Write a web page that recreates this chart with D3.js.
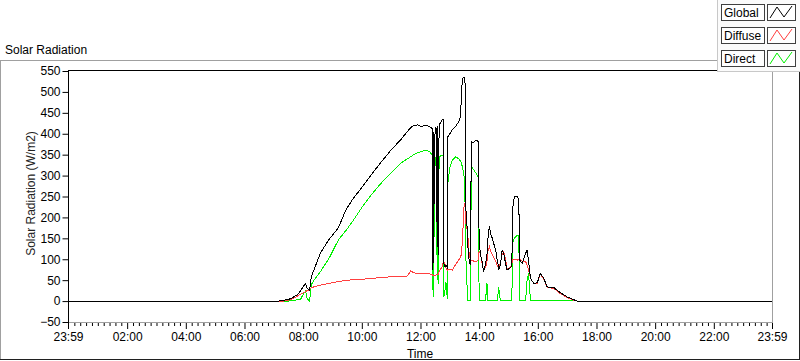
<!DOCTYPE html>
<html>
<head>
<meta charset="utf-8">
<script src="https://cdn.jsdelivr.net/npm/d3@7/dist/d3.min.js"></script>
<style>
  html, body { margin: 0; padding: 0; background: #fff; }
  svg { display: block; font-family: "Liberation Sans", Arial, sans-serif; }
</style>
</head>
<body>
<svg id="chart" width="800" height="361"></svg>
<script>
// ---- data (time in minutes since midnight, -1 = 23:59 previous day) ----
const minutes = [-1, 430, 440, 450, 458, 468, 475, 479, 485, 488, 493, 497, 502, 515, 532, 552, 567, 581, 599, 618,
  638, 659, 679, 693, 700, 706, 714, 722, 730, 738, 744, 745, 746, 747, 748, 750, 753, 754, 755, 757,
  758, 764, 767, 768, 770, 772, 775, 776, 780, 785, 792, 798, 802, 804, 806, 809, 811, 812, 813, 815,
  817, 820, 822, 824, 828, 834, 838, 840, 843, 846, 849, 853, 856, 858, 861, 863, 867, 874, 877, 879,
  880, 882, 884, 887, 890, 894, 897, 904, 907, 908, 912, 918, 921, 923, 928, 935, 938, 941, 945, 952,
  959, 965, 972, 979, 993, 1006, 1020, 1034, 1041, 1439];
const globalRad = [0, 0, 2, 4, 8, 15, 25, 33, 42, 30, 26, 60, 74, 114, 146, 175, 217, 243, 270, 300,
  330, 360, 385, 405, 415, 420, 421, 417, 420, 418, 412, 74, 405, 90, 300, 415, 412, 130, 418, 110,
  420, 433, 433, 90, 82, 85, 80, 393, 400, 410, 417, 429, 440, 504, 532, 536, 528, 440, 218, 184,
  130, 90, 88, 381, 378, 385, 381, 138, 110, 94, 70, 90, 110, 150, 180, 162, 150, 120, 98, 85,
  74, 80, 90, 122, 115, 90, 74, 80, 85, 218, 249, 249, 245, 98, 90, 114, 122, 98, 54, 42,
  44, 66, 55, 34, 32, 20, 10, 3, 0, 0];
const diffuseRad = [0, 0, 0, 2, 5, 12, 17, 19, 22, 25, 27, 32, 34, 38, 42, 47, 49, 51, 52, 54,
  56, 58, 58, 60, 72, 68, 66, 66, 66, 65, 64, 62, 62, 62, 62, 62, 63, 63, 64, 64,
  70, 82, 94, 92, 90, 80, 74, 76, 75, 74, 88, 98, 105, 114, 150, 225, 233, 186, 186, 175,
  154, 106, 100, 98, 96, 94, 98, 120, 110, 90, 74, 80, 95, 120, 130, 120, 110, 95, 85, 82,
  80, 85, 95, 112, 118, 100, 78, 80, 90, 98, 100, 98, 100, 100, 95, 95, 85, 75, 54, 42,
  43, 64, 53, 33, 30, 18, 8, 2, 0, 0];
const directRad = [0, 0, 0, 0, 1, 3, 5, 14, 24, 6, 0, 40, 50, 70, 100, 146, 168, 190, 222, 252,
  280, 305, 329, 340, 345, 350, 355, 357, 361, 358, 349, 26, 345, 10, 220, 340, 345, 50, 340, 40,
  345, 349, 345, 10, 25, 45, 5, 281, 320, 337, 345, 340, 335, 328, 320, 300, 241, 180, 100, 42,
  2, 2, 2, 321, 315, 305, 297, 2, 2, 2, 2, 2, 42, 2, 2, 2, 2, 2, 2, 20,
  34, 10, 2, 2, 2, 2, 2, 2, 2, 138, 150, 158, 155, 2, 2, 2, 50, 66, 2, 2,
  2, 2, 2, 2, 2, 2, 2, 1, 0, 0];

const seriesNames = ["Global", "Diffuse", "Direct"];
const seriesColors = ["#000000", "#ff4040", "#00f000"];
const seriesValues = [globalRad, diffuseRad, directRad];

const yTicks = [-50, 0, 50, 100, 150, 200, 250, 300, 350, 400, 450, 500, 550];
const xTicks = [-1, 120, 240, 360, 480, 600, 720, 840, 960, 1080, 1200, 1320, 1439];
const xTickLabels = ["23:59", "02:00", "04:00", "06:00", "08:00", "10:00", "12:00", "14:00", "16:00", "18:00", "20:00", "22:00", "23:59"];

const chartTitle = "Solar Radiation";
const yTitle = "Solar Radiation (W/m2)";
const xTitle = "Time";

// ---- layout ----
const L = 68, R = 772, T = 71, B = 322;
const svg = d3.select("#chart");

const x = d3.scaleLinear().domain([-1, 1439]).range([L, R]);
const y = d3.scaleLinear().domain([-50, 550]).range([B, T]);

// outer frame
svg.append("line").attr("x1", 0.5).attr("x2", 0.5).attr("y1", 60).attr("y2", 360).attr("stroke", "#a0a0a0");
svg.append("line").attr("x1", 0).attr("x2", 718).attr("y1", 60.5).attr("y2", 60.5).attr("stroke", "#a0a0a0");
svg.append("line").attr("x1", 0).attr("x2", 800).attr("y1", 359.5).attr("y2", 359.5).attr("stroke", "#202020");
svg.append("line").attr("x1", 799.5).attr("x2", 799.5).attr("y1", 72).attr("y2", 360).attr("stroke", "#202020");

// title
svg.append("text").attr("x", 5).attr("y", 54).attr("font-size", 12).attr("fill", "#000").text(chartTitle);

// plot area
svg.append("rect").attr("x", L).attr("y", T).attr("width", R - L).attr("height", B - T).attr("fill", "#fff");

// data lines (drawn Direct, Diffuse, then Global on top)
svg.append("clipPath").attr("id", "clip").append("rect")
  .attr("x", L + 1).attr("y", T).attr("width", R - L - 1).attr("height", B - T);
const line = d3.line().x(d => x(d[0])).y(d => y(d[1]));
const gLines = svg.append("g").attr("clip-path", "url(#clip)");
[2, 1, 0].forEach(i => {
  const vals = seriesValues[i];
  const pts = minutes.map((m, k) => [m, vals[k]]);
  gLines.append("path").datum(pts).attr("d", line)
    .attr("fill", "none").attr("stroke", seriesColors[i]).attr("stroke-width", 1)
    .attr("shape-rendering", "crispEdges");
});

// plot borders (sunken)
svg.append("line").attr("x1", L).attr("x2", R).attr("y1", T - 0.5).attr("y2", T - 0.5).attr("stroke", "#000");
svg.append("line").attr("x1", R + 0.5).attr("x2", R + 0.5).attr("y1", T - 1).attr("y2", B + 1).attr("stroke", "#a0a0a0");
svg.append("line").attr("x1", L).attr("x2", R + 1).attr("y1", B + 0.5).attr("y2", B + 0.5).attr("stroke", "#a0a0a0");

// y axis
const yAxis = d3.axisLeft(y).tickValues(yTicks).tickSize(6).tickPadding(2);
const gy = svg.append("g").attr("transform", `translate(${L + 0.5},0)`).call(yAxis);
gy.select(".domain").attr("d", `M0,${T - 1}V${B + 1}`).attr("stroke", "#000");
gy.selectAll(".tick line").attr("stroke", "#000");
gy.selectAll(".tick text").attr("font-size", 12).attr("fill", "#000").attr("font-family", "Liberation Sans, Arial, sans-serif");

// x axis minor ticks
const minorTicks = d3.range(0, 1440, 12).filter(m => m % 120 !== 0);
const xMinor = d3.axisBottom(x).tickValues(minorTicks).tickSize(3).tickFormat("");
const gxm = svg.append("g").attr("transform", `translate(0,${B + 1})`).call(xMinor);
gxm.select(".domain").remove();
gxm.selectAll(".tick line").attr("stroke", "#000");

// x axis major ticks
const xMajor = d3.axisBottom(x).tickValues(xTicks).tickSize(6).tickPadding(3)
  .tickFormat((d, i) => xTickLabels[i]);
const gx = svg.append("g").attr("transform", `translate(0,${B + 1})`).call(xMajor);
gx.select(".domain").remove();
gx.selectAll(".tick line").attr("stroke", "#000");
gx.selectAll(".tick text").attr("font-size", 12).attr("fill", "#000").attr("font-family", "Liberation Sans, Arial, sans-serif");

// axis titles
svg.append("text").attr("x", (L + R) / 2).attr("y", 358).attr("text-anchor", "middle")
  .attr("font-size", 12).attr("fill", "#000").text(xTitle);
svg.append("text").attr("transform", `translate(35,${(T + B) / 2 - 3}) rotate(-90)`).attr("text-anchor", "middle")
  .attr("font-size", 12).attr("fill", "#222").text(yTitle);

// legend
const lg = svg.append("g");
lg.append("rect").attr("x", 717.5).attr("y", -1).attr("width", 90).attr("height", 72.5)
  .attr("fill", "#fbfbfb").attr("stroke", "#c8c8c8");
seriesNames.forEach((name, i) => {
  const top = 4 + i * 23;
  lg.append("rect").attr("x", 721.5).attr("y", top + 0.5).attr("width", 43).attr("height", 16)
    .attr("fill", "#fff").attr("stroke", "#404040");
  lg.append("text").attr("x", 724).attr("y", top + 13).attr("font-size", 12).attr("fill", "#000").text(name);
  lg.append("rect").attr("x", 767.5).attr("y", top + 0.5).attr("width", 28).attr("height", 16)
    .attr("fill", "#fff").attr("stroke", "#404040");
  lg.append("path").attr("d", `M770,${top + 14}L777,${top + 3}L784,${top + 13}L792,${top + 2}`)
    .attr("fill", "none").attr("stroke", seriesColors[i]).attr("stroke-width", 1);
});
</script>
</body>
</html>
